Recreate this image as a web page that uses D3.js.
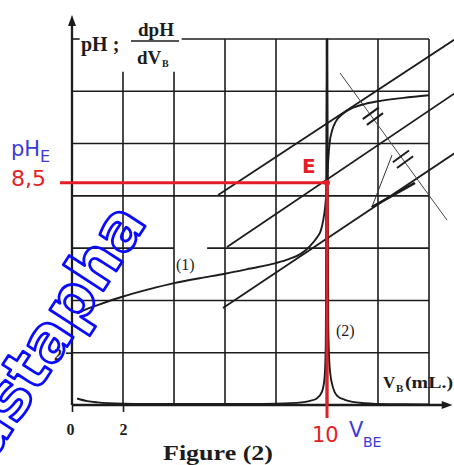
<!DOCTYPE html>
<html><head><meta charset="utf-8">
<script src="https://cdn.jsdelivr.net/npm/d3@7"></script>
<style>
html,body{margin:0;padding:0;background:#fff;}
svg{display:block;}
</style></head>
<body>
<svg id="chart" width="454" height="465"></svg>
<script>
// ---- data ----
const V1  = [0.2,0.6,1,2,3,4,5,6,7,8,8.5,9,9.35,9.6,9.75,9.85,9.93,10,10.05,10.1,10.2,10.35,10.6,11,11.5,12,13,14];
const PH1 = [3.5,3.68,3.82,4.15,4.42,4.66,4.85,5.02,5.22,5.43,5.58,5.8,6.1,6.4,6.65,7.05,7.6,8.5,9.4,10.0,10.5,10.85,11.12,11.36,11.52,11.62,11.75,11.85];
const V2  = [0.2,0.6,1,2,3,4,5,6,7,8,9,9.3,9.6,9.8,9.9,9.95,10,10.05,10.1,10.2,10.4,10.7,11,11.5,12,13,14];
const D2  = [0.25,0.15,0.1,0.05,0.04,0.04,0.04,0.04,0.04,0.05,0.1,0.15,0.25,0.5,1.0,2.2,14,3,1.5,0.8,0.35,0.2,0.12,0.07,0.04,0.03,0.02];
const GRID_V  = [2,4,6,8,10,12,14];
const GRID_PH = [2,4,6,8,10,12,14];
const X_TICKS = [0,2];
const Y_TICKS = [2];
const V_E = 10, PH_E = 8.5;
// construction lines (tangent method), in data units
const TANGENTS = [
  [[5.73,8.03],[15.0,13.98]],
  [[6.08,6.04],[15.0,11.92]],
  [[5.92,3.71],[15.0,9.63]]
];
const NORMAL = [[10.51,12.70],[14.71,7.07]];
const HASHES = [[11.8,11.05],[12.98,9.4]];
const TRIANGLE = [[12.55,9.56],[11.76,7.57],[13.45,8.5]];

// ---- scales ----
const svg = d3.select("#chart");
const x = d3.scaleLinear().domain([0,14]).range([72,429]);
const y = d3.scaleLinear().domain([0,14]).range([405,39]);
const ink = "#1c1c1c";
const serif = "'Liberation Serif','Times New Roman',serif";
const sans = "'DejaVu Sans',Verdana,sans-serif";

svg.append("clipPath").attr("id","cl").append("rect")
  .attr("x",0).attr("y",0).attr("width",454).attr("height",465);

// ---- grid ----
const g = svg.append("g").attr("stroke",ink).attr("fill","none");
GRID_V.forEach(v=>{
  const top = v<=4 ? 12.75 : 14;
  g.append("line").attr("x1",x(v)).attr("x2",x(v)).attr("y1",y(top)).attr("y2",y(0))
   .attr("stroke-width", v===10 ? 2.6 : 1.6);
});
GRID_PH.forEach(p=>{
  if(p===14){
    g.append("line").attr("x1",x(0)).attr("x2",x(0.3)).attr("y1",y(p)).attr("y2",y(p)).attr("stroke-width",1.6);
    g.append("line").attr("x1",x(4.3)).attr("x2",x(14)).attr("y1",y(p)).attr("y2",y(p)).attr("stroke-width",1.6);
  } else if(p===6){
    g.append("line").attr("x1",x(0)).attr("x2",x(4)).attr("y1",y(p)).attr("y2",y(p)).attr("stroke-width",1.6);
    g.append("line").attr("x1",x(5.3)).attr("x2",x(14)).attr("y1",y(p)).attr("y2",y(p)).attr("stroke-width",1.6);
  } else {
    g.append("line").attr("x1",x(0)).attr("x2",x(14)).attr("y1",y(p)).attr("y2",y(p)).attr("stroke-width",1.6);
  }
});

// ---- axes ----
const xAxis = svg.append("g").attr("transform",`translate(0,${y(0)})`)
  .call(d3.axisBottom(x).tickValues(X_TICKS).tickSize(7).tickFormat(d3.format("d")));
xAxis.select(".domain").remove();
xAxis.selectAll("line").attr("stroke",ink).attr("stroke-width",1.6);
xAxis.selectAll("text").attr("font-family",serif).attr("font-weight","bold").attr("font-size",16)
  .attr("fill",ink).attr("dy","1.25em").attr("dx",(d)=>d===0?-2:0);

const yAxis = svg.append("g").attr("transform",`translate(${x(0)},0)`)
  .call(d3.axisLeft(y).tickValues(Y_TICKS).tickSize(6).tickFormat(d3.format("d")));
yAxis.select(".domain").remove();
yAxis.selectAll("line").attr("stroke",ink).attr("stroke-width",1.6);
yAxis.selectAll("text").attr("font-family",serif).attr("font-weight","bold").attr("font-size",16)
  .attr("fill",ink).attr("dx","-1px").attr("dy","0.4em");

svg.append("line").attr("x1",x(0)).attr("x2",x(0)).attr("y1",y(0)).attr("y2",y(14.6))
  .attr("stroke",ink).attr("stroke-width",2.3);
svg.append("path").attr("d",`M${x(0)},${y(14.92)} L${x(0)-4},${y(14.5)} L${x(0)+4},${y(14.5)} Z`).attr("fill",ink);
svg.append("line").attr("x1",x(0)).attr("x2",x(14.7)).attr("y1",y(0)).attr("y2",y(0))
  .attr("stroke",ink).attr("stroke-width",2.4);
svg.append("path").attr("d",`M${x(14.92)},${y(0)} L${x(14.5)},${y(0)-4} L${x(14.5)},${y(0)+4} Z`).attr("fill",ink);

// ---- construction lines ----
const cg = svg.append("g").attr("clip-path","url(#cl)");
TANGENTS.forEach(t=>{
  cg.append("line").attr("x1",x(t[0][0])).attr("y1",y(t[0][1])).attr("x2",x(t[1][0])).attr("y2",y(t[1][1]))
    .attr("stroke",ink).attr("stroke-width",1.8);
});
cg.append("line").attr("x1",x(NORMAL[0][0])).attr("y1",y(NORMAL[0][1])).attr("x2",x(NORMAL[1][0])).attr("y2",y(NORMAL[1][1]))
  .attr("stroke","#444").attr("stroke-width",1);
const nx = x(NORMAL[1][0])-x(NORMAL[0][0]), ny = y(NORMAL[1][1])-y(NORMAL[0][1]);
const nl = Math.hypot(nx,ny), ux = nx/nl, uy = ny/nl;
const px = uy, py = -ux;
HASHES.forEach(h=>{
  [-3.5,3.5].forEach(o=>{
    const cx = x(h[0]) + ux*o, cy = y(h[1]) + uy*o;
    cg.append("line").attr("x1",cx-px*10).attr("y1",cy-py*10).attr("x2",cx+px*10).attr("y2",cy+py*10)
      .attr("stroke",ink).attr("stroke-width",2);
  });
});
cg.append("line").attr("x1",x(TRIANGLE[0][0])).attr("y1",y(TRIANGLE[0][1])).attr("x2",x(TRIANGLE[1][0])).attr("y2",y(TRIANGLE[1][1]))
  .attr("stroke","#333").attr("stroke-width",1);
cg.append("line").attr("x1",x(TRIANGLE[1][0])).attr("y1",y(TRIANGLE[1][1])).attr("x2",x(TRIANGLE[2][0])).attr("y2",y(TRIANGLE[2][1]))
  .attr("stroke",ink).attr("stroke-width",2.6);

// ---- curves ----
const line = d3.line().curve(d3.curveMonotoneX);
svg.append("path").attr("d", line(V1.map((v,i)=>[x(v),y(PH1[i])])))
  .attr("fill","none").attr("stroke",ink).attr("stroke-width",1.9);
svg.append("path").attr("d", line(V2.map((v,i)=>[x(v),y(D2[i])])))
  .attr("fill","none").attr("stroke",ink).attr("stroke-width",1.9);

// ---- texts (black) ----
const T = (s,xx,yy,opt={})=>svg.append("text").attr("x",xx).attr("y",yy).text(s)
  .attr("font-family",opt.ff||serif).attr("font-weight",opt.fw||"bold").attr("font-size",opt.fs||16)
  .attr("fill",opt.fill||ink).attr("text-anchor",opt.anchor||"start");
T("pH ;", 81, 51, {fs:20});
T("dpH", 156, 36, {fs:19, anchor:"middle"});
svg.append("line").attr("x1",131).attr("x2",179).attr("y1",41).attr("y2",41).attr("stroke",ink).attr("stroke-width",1.6);
T("dV", 137, 64, {fs:19});
T("B", 162, 67, {fs:10});
T("V", 383, 388, {fs:17});
T("B", 396, 392, {fs:11});
T("(mL.)", 405, 388, {fs:17}).attr("textLength",48).attr("lengthAdjust","spacingAndGlyphs");
T("(1)", 176, 270, {fs:16, fw:"normal"});
T("(2)", 336, 336, {fs:16, fw:"normal"});
T("Figure (2)", 163, 460, {fs:21}).attr("textLength",110).attr("lengthAdjust","spacingAndGlyphs");

// ---- red / blue annotations ----
const red = "#e41e26", blue = "#3a3ad6";
svg.append("line").attr("x1",x(-0.47)).attr("x2",x(V_E)).attr("y1",y(PH_E)).attr("y2",y(PH_E))
  .attr("stroke",red).attr("stroke-width",3);
svg.append("line").attr("x1",x(V_E)).attr("x2",x(V_E)).attr("y1",y(PH_E)).attr("y2",y(-0.5))
  .attr("stroke",red).attr("stroke-width",3);
svg.append("circle").attr("cx",x(V_E)).attr("cy",y(PH_E)).attr("r",3).attr("fill",red);
T("pH", 11, 156, {ff:sans, fw:"normal", fs:21, fill:blue});
T("E", 40, 162, {ff:sans, fw:"normal", fs:16, fill:blue});
T("8,5", 11, 186, {ff:sans, fw:"normal", fs:22, fill:red});
T("E", 302, 173, {ff:sans, fw:"bold", fs:20, fill:red});
T("10", 312, 442, {ff:sans, fw:"normal", fs:21, fill:red});
T("V", 349, 437, {ff:sans, fw:"normal", fs:21, fill:blue});
T("BE", 363, 447, {ff:sans, fw:"normal", fs:14, fill:blue});

// ---- watermark ----
svg.append("text").attr("transform","translate(148,222) rotate(-57)")
  .attr("text-anchor","end").attr("font-family",sans).attr("font-weight","bold").attr("font-size",63)
  .attr("fill","none").attr("stroke","#0a0aff").attr("stroke-width",2.8).attr("stroke-linejoin","round")
  .text("Mustapha");
</script>
</body></html>
